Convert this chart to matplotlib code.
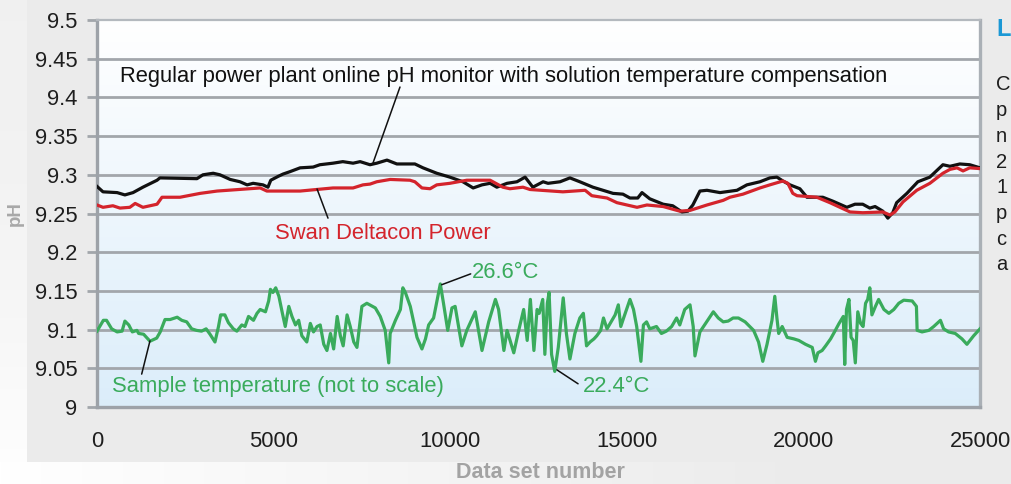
import numpy as np
import matplotlib
matplotlib.use("Agg")
import matplotlib.pyplot as plt

plt.rcParams['font.family'] = ['Liberation Sans', 'DejaVu Sans']

# ---------------- data ----------------
black_x = [0, 170, 570, 790, 1020, 1300, 1700, 1780, 2830, 3000, 3290, 3480, 3770, 4050,
           4250, 4420, 4700, 4840, 4920, 5130, 5270, 5460, 5750, 6120, 6310, 6680, 6960,
           7250, 7450, 7730, 7920, 8210, 8490, 9000, 9230, 9620, 9990, 10360, 10650,
           10900, 11130, 11320, 11610, 11890, 12120, 12340, 12630, 12770, 13110, 13390,
           13670, 14040, 14610, 14890, 15090, 15310, 15430, 15650, 16030, 16300, 16560,
           16730, 16870, 17070, 17270, 17640, 18120, 18400, 18770, 19050, 19250, 19420,
           19620, 19900, 20100, 20550, 20830, 21230, 21460, 21680, 21880, 22030, 22250,
           22390, 22530, 22640, 22930, 23240, 23580, 23950, 24150, 24430, 24710, 25000]
black_y = [9.285, 9.278, 9.277, 9.274, 9.277, 9.284, 9.293, 9.296, 9.295, 9.300, 9.302,
           9.300, 9.294, 9.291, 9.287, 9.289, 9.287, 9.284, 9.293, 9.298, 9.301, 9.304,
           9.309, 9.310, 9.313, 9.315, 9.317, 9.315, 9.317, 9.313, 9.315, 9.319, 9.314,
           9.314, 9.309, 9.302, 9.297, 9.291, 9.283, 9.287, 9.289, 9.284, 9.289, 9.291,
           9.297, 9.284, 9.291, 9.289, 9.291, 9.296, 9.291, 9.284, 9.276, 9.275, 9.270,
           9.270, 9.277, 9.269, 9.262, 9.260, 9.252, 9.253, 9.261, 9.279, 9.280, 9.277,
           9.280, 9.287, 9.291, 9.296, 9.297, 9.292, 9.287, 9.282, 9.271, 9.271, 9.266,
           9.258, 9.262, 9.262, 9.257, 9.259, 9.253, 9.244, 9.251, 9.264, 9.276, 9.291,
           9.297, 9.313, 9.311, 9.314, 9.313, 9.309]

red_x = [0, 170, 450, 650, 930, 1080, 1300, 1700, 1840, 2350, 2920, 3400, 4620, 4810,
         5750, 6680, 7250, 7530, 7730, 7920, 8300, 8860, 9000, 9200, 9430, 9620, 9990,
         10470, 11130, 11490, 11690, 12060, 12260, 13190, 13820, 14010, 14440, 14720,
         15290, 15570, 16030, 16500, 16790, 17270, 17730, 17920, 18290, 18770, 19050,
         19420, 19560, 19700, 19820, 20380, 20750, 21320, 21680, 22250, 22450, 22590,
         22820, 23210, 23580, 23950, 24150, 24350, 24520, 24710, 25000]
red_y = [9.261, 9.258, 9.260, 9.257, 9.258, 9.263, 9.258, 9.262, 9.271, 9.271, 9.276,
         9.279, 9.283, 9.279, 9.279, 9.283, 9.283, 9.287, 9.288, 9.291, 9.294, 9.293,
         9.291, 9.283, 9.282, 9.287, 9.289, 9.293, 9.293, 9.284, 9.282, 9.284, 9.281,
         9.278, 9.280, 9.273, 9.270, 9.264, 9.258, 9.261, 9.259, 9.253, 9.254, 9.261,
         9.267, 9.271, 9.275, 9.283, 9.287, 9.292, 9.289, 9.276, 9.273, 9.271, 9.264,
         9.252, 9.251, 9.252, 9.248, 9.252, 9.265, 9.280, 9.289, 9.302, 9.307, 9.309,
         9.305, 9.309, 9.308]

green_x = [0, 180, 270, 415, 570, 710, 790, 900, 1000, 1130, 1180, 1320, 1500, 1690, 1790,
           1925, 2070, 2270, 2400, 2540, 2680, 2820, 2960, 3090, 3200, 3340, 3440, 3500,
           3620, 3720, 3860, 3960, 4100, 4190, 4290, 4430, 4530, 4620, 4770, 4860, 4910,
           4980, 5060, 5150, 5240, 5330, 5430, 5520, 5620, 5710, 5800, 5940, 6040, 6130,
           6230, 6320, 6420, 6510, 6610, 6700, 6800, 6890, 6970, 7080, 7170, 7270, 7360,
           7500, 7640, 7880, 8020, 8160, 8260, 8300, 8450, 8590, 8660, 8730, 8870, 9060,
           9200, 9300, 9390, 9530, 9720, 9810, 9930, 10050, 10140, 10330, 10470, 10710,
           10900, 11090, 11280, 11370, 11520, 11610, 11800, 11940, 12080, 12180, 12270,
           12370, 12460, 12520, 12620, 12680, 12750, 12800, 12870, 12960, 13060, 13200,
           13290, 13390, 13530, 13670, 13770, 13860, 13960, 14070, 14150, 14260, 14340,
           14440, 14530, 14670, 14760, 14830, 14910, 15090, 15190, 15280, 15400, 15470,
           15560, 15650, 15840, 15980, 16120, 16270, 16410, 16500, 16640, 16790, 16880,
           16930, 17070, 17260, 17450, 17590, 17730, 17870, 18010, 18160, 18350, 18590,
           18730, 18850, 18970, 19110, 19190, 19250, 19300, 19400, 19540, 19730, 19870,
           20060, 20250, 20340, 20410, 20530, 20630, 20770, 20880, 21010, 21130, 21170,
           21220, 21290, 21350, 21410, 21470, 21540, 21620, 21690, 21760, 21820, 21880,
           21940, 22040, 22130, 22280, 22420, 22560, 22700, 22840, 23080, 23200, 23220,
           23360, 23550, 23690, 23880, 23970, 24110, 24300, 24490, 24630, 24820, 25000]
green_y = [9.098, 9.112, 9.112, 9.101, 9.097, 9.098, 9.111, 9.106, 9.097, 9.099, 9.095,
           9.094, 9.085, 9.089, 9.097, 9.113, 9.113, 9.116, 9.112, 9.110, 9.101, 9.099,
           9.098, 9.101, 9.094, 9.084, 9.104, 9.119, 9.119, 9.109, 9.101, 9.098, 9.106,
           9.104, 9.117, 9.112, 9.121, 9.126, 9.123, 9.137, 9.152, 9.148, 9.154, 9.143,
           9.123, 9.104, 9.130, 9.117, 9.106, 9.112, 9.092, 9.084, 9.108, 9.097, 9.104,
           9.106, 9.081, 9.073, 9.095, 9.075, 9.117, 9.092, 9.079, 9.119, 9.104, 9.084,
           9.077, 9.130, 9.134, 9.128, 9.117, 9.099, 9.057, 9.095, 9.112, 9.126, 9.154,
           9.148, 9.130, 9.090, 9.075, 9.088, 9.106, 9.115, 9.159, 9.134, 9.099, 9.128,
           9.130, 9.079, 9.099, 9.123, 9.073, 9.110, 9.139, 9.126, 9.073, 9.099, 9.070,
           9.099, 9.126, 9.086, 9.139, 9.073, 9.126, 9.121, 9.139, 9.068, 9.134, 9.148,
           9.068, 9.046, 9.077, 9.141, 9.095, 9.062, 9.095, 9.115, 9.121, 9.079, 9.084,
           9.088, 9.092, 9.099, 9.115, 9.101, 9.108, 9.119, 9.132, 9.104, 9.115, 9.139,
           9.126, 9.104, 9.059, 9.106, 9.110, 9.101, 9.104, 9.095, 9.098, 9.104, 9.115,
           9.106, 9.126, 9.132, 9.104, 9.066, 9.097, 9.110, 9.123, 9.115, 9.110, 9.111,
           9.115, 9.115, 9.110, 9.099, 9.084, 9.059, 9.081, 9.112, 9.143, 9.115, 9.095,
           9.104, 9.090, 9.088, 9.086, 9.081, 9.077, 9.059, 9.070, 9.073, 9.079, 9.088,
           9.097, 9.108, 9.117, 9.055, 9.126, 9.139, 9.090, 9.086, 9.057, 9.123, 9.108,
           9.104, 9.134, 9.139, 9.154, 9.119, 9.130, 9.139, 9.126, 9.121, 9.126, 9.134,
           9.138, 9.137, 9.130, 9.099, 9.097, 9.099, 9.104, 9.112, 9.101, 9.097, 9.095,
           9.088, 9.081, 9.092, 9.101]

y_ticks = [9, 9.05, 9.1, 9.15, 9.2, 9.25, 9.3, 9.35, 9.4, 9.45, 9.5]
y_ticklabels = ['9', '9.05', '9.1', '9.15', '9.2', '9.25', '9.3', '9.35', '9.4', '9.45', '9.5']
x_ticks = [0, 5000, 10000, 15000, 20000, 25000]
x_ticklabels = ['0', '5000', '10000', '15000', '20000', '25000']

label_black = 'Regular power plant online pH monitor with solution temperature compensation'
label_red = 'Swan Deltacon Power'
label_green = 'Sample temperature (not to scale)'
label_max = '26.6°C'
label_min = '22.4°C'
side_letters = ['C', 'p', 'n', '2', '1', 'p', 'c', 'a']

# ---------------- figure ----------------
W, H = 1011, 484
fig = plt.figure(figsize=(W / 100, H / 100), dpi=100)

# background panel with soft light edges
bg = np.full((H, W), 0.925)
yy, xx = np.mgrid[0:H, 0:W]
left = xx < 27
bg[left] = 0.945 + 0.055 * (yy[left] / H) ** 2
bottom = yy > 461
bg[bottom] = np.clip(1.0 - 0.075 * (xx[bottom] / 780.0), 0.925, 1.0)
bgax = fig.add_axes([0, 0, 1, 1], zorder=-5)
bgax.imshow(np.dstack([bg, bg, bg]), aspect='auto', extent=(0, 1, 0, 1), origin='upper')
bgax.set_axis_off()

ax = fig.add_axes([97 / W, (H - 407) / H, (980 - 97) / W, (407 - 20) / H])
ax.set_xlim(0, 25000)
ax.set_ylim(9.0, 9.5)

# plot-area gradient (white at top -> light blue at bottom)
grad = np.linspace(0, 1, 256)[:, None]
top_c = np.array([1.0, 1.0, 1.0])
bot_c = np.array([0.86, 0.93, 0.98])
img = top_c[None, None, :] * (1 - grad[:, :, None]) + bot_c[None, None, :] * grad[:, :, None]
ax.imshow(img, aspect='auto', extent=(0, 25000, 9.0, 9.5), origin='upper', zorder=0)

grid_c = '#a2a6ab'
for v in y_ticks[1:-1]:
    ax.axhline(v, color=grid_c, lw=2.0, zorder=1)

ax.plot(black_x, black_y, color='#111111', lw=2.3, zorder=3, solid_joinstyle='round')
ax.plot(red_x, red_y, color='#d4242c', lw=2.3, zorder=4, solid_joinstyle='round')
ax.plot(green_x, green_y, color='#3aab5c', lw=2.3, zorder=3, solid_joinstyle='round')

for s in ['left', 'bottom']:
    ax.spines[s].set_color('#9da2a8')
    ax.spines[s].set_linewidth(2.4)
ax.spines['right'].set_color('#aab0b6')
ax.spines['right'].set_linewidth(2.4)
ax.spines['top'].set_color('#b4b9be')
ax.spines['top'].set_linewidth(1.6)

fs = 15.8
ax.set_yticks(y_ticks)
ax.set_yticklabels(y_ticklabels)
ax.set_xticks(x_ticks)
ax.set_xticklabels(x_ticklabels)
ax.tick_params(axis='y', length=7, width=2.0, color=grid_c, pad=7, labelsize=fs,
               labelcolor='#1e1e1e')
ax.tick_params(axis='x', length=0, pad=17, labelsize=fs, labelcolor='#1e1e1e')
ax.set_xticks(x_ticks[1:-1], minor=True)
ax.tick_params(axis='x', which='minor', length=6, width=2.4, color='#9da2a8')

fig.text(15 / W, 1 - 214 / H, 'pH', rotation=90, fontsize=13.5, fontweight='bold',
         color='#a8a8a8', ha='center', va='center')
fig.text(540 / W, 1 - 473 / H, 'Data set number', fontsize=15.5, fontweight='bold',
         color='#a3a3a3', ha='center', va='center')

# annotations
line_kw = dict(arrowstyle='-', color='#111111', lw=1.1, shrinkA=0, shrinkB=0)
ax.text(651, 9.4276, label_black, ha='left', va='center', fontsize=fs, color='#111111',
        zorder=5)
ax.annotate('', xy=(7814, 9.3152), xytext=(8578, 9.4134),
            arrowprops=dict(line_kw), zorder=5)
ax.annotate('', xy=(6230, 9.2817), xytext=(6540, 9.244),
            arrowprops=dict(line_kw), zorder=5)
ax.text(5040, 9.2248, label_red, ha='left', va='center', fontsize=fs, color='#d4242c',
        zorder=5)
ax.annotate('', xy=(1500, 9.0855), xytext=(1265, 9.0425),
            arrowprops=dict(line_kw), zorder=5)
ax.text(425, 9.0271, label_green, ha='left', va='center', fontsize=fs, color='#3aab5c',
        zorder=5)
ax.annotate('', xy=(9760, 9.158), xytext=(10580, 9.172),
            arrowprops=dict(line_kw), zorder=5)
ax.text(10616, 9.1744, label_max, ha='left', va='center', fontsize=fs, color='#3aab5c',
        zorder=5)
ax.annotate('', xy=(13020, 9.048), xytext=(13620, 9.030),
            arrowprops=dict(line_kw), zorder=5)
ax.text(13760, 9.0271, label_min, ha='left', va='center', fontsize=fs, color='#3aab5c',
        zorder=5)

# cut-off sidebar text on the right
fig.text(996 / W, 1 - 30 / H, 'L', fontsize=17, fontweight='bold', color='#1b98d5',
         ha='left', va='center')
for i, ch in enumerate(side_letters):
    fig.text(996 / W, 1 - (85 + i * 25.7) / H, ch, fontsize=14.5, color='#1e1e1e',
             ha='left', va='center')

fig.savefig('out.png', dpi=100)
